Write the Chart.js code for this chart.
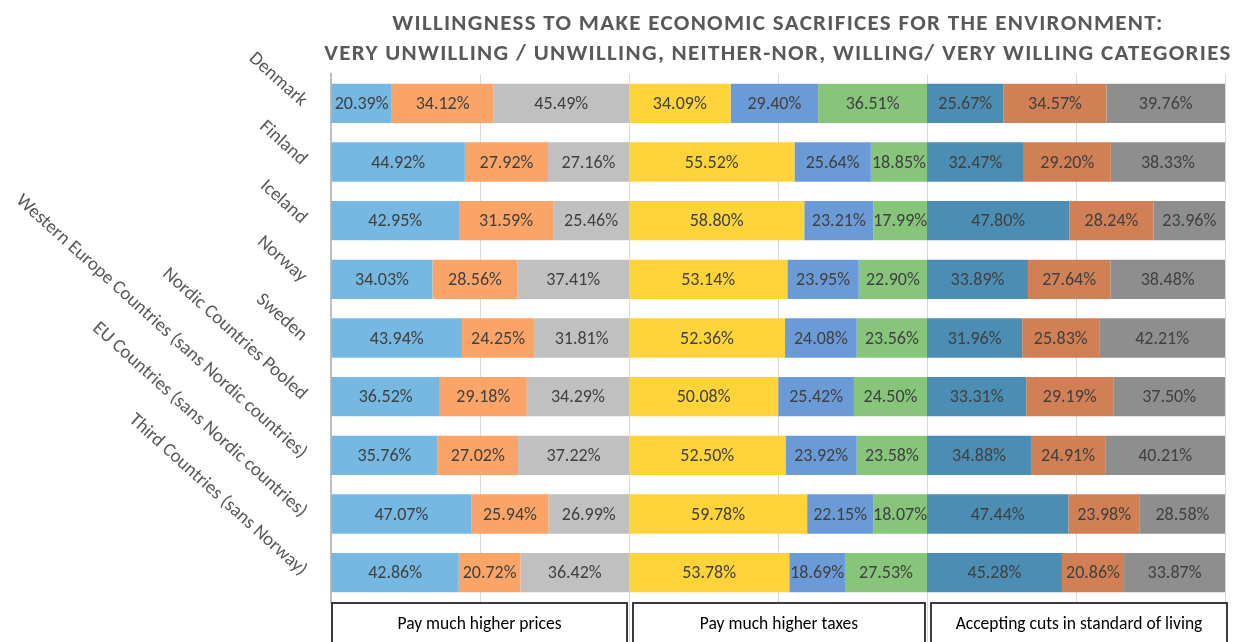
<!DOCTYPE html>
<html>
<head>
<meta charset="utf-8">
<script src="https://cdn.jsdelivr.net/npm/chart.js@4.4.0/dist/chart.umd.min.js"></script>
<style>
    body { margin: 0; background: #fff; }
    #wrap { width: 1250px; height: 642px; }
</style>
</head>
<body>
<div id="wrap"><canvas id="graph_sacrificios"></canvas></div>
<script>
// ############################## SACRIFICIOS ECONÓMICOS ############################### //
const paises = [
    'Denmark',
    'Finland',
    'Iceland',
    'Norway',
    'Sweden',
    'Nordic Countries Pooled',
    'Western Europe Countries (sans Nordic countries)',
    'EU Countries (sans Nordic countries)',
    'Third Countries (sans Norway)'
];
const categorias = ['Pay much higher prices', 'Pay much higher taxes', 'Accepting cuts in standard of living'];
const titulo = [
    'WILLINGNESS TO MAKE ECONOMIC SACRIFICES FOR THE ENVIRONMENT:',
    'VERY UNWILLING / UNWILLING, NEITHER-NOR, WILLING/ VERY WILLING CATEGORIES'
];

// precios
const precios_no = [20.39, 44.92, 42.95, 34.03, 43.94, 36.52, 35.76, 47.07, 42.86];
const precios_ni = [34.12, 27.92, 31.59, 28.56, 24.25, 29.18, 27.02, 25.94, 20.72];
const precios_si = [45.49, 27.16, 25.46, 37.41, 31.81, 34.29, 37.22, 26.99, 36.42];
// impuestos
const impuestos_no = [34.09, 55.52, 58.80, 53.14, 52.36, 50.08, 52.50, 59.78, 53.78];
const impuestos_ni = [29.40, 25.64, 23.21, 23.95, 24.08, 25.42, 23.92, 22.15, 18.69];
const impuestos_si = [36.51, 18.85, 17.99, 22.90, 23.56, 24.50, 23.58, 18.07, 27.53];
// nivel de vida
const nivel_no = [25.67, 32.47, 47.80, 33.89, 31.96, 33.31, 34.88, 47.44, 45.28];
const nivel_ni = [34.57, 29.20, 28.24, 27.64, 25.83, 29.19, 24.91, 23.98, 20.86];
const nivel_si = [39.76, 38.33, 23.96, 38.48, 42.21, 37.50, 40.21, 28.58, 33.87];

const fuente = 'Carlito, "Liberation Sans Narrow", "Liberation Sans", sans-serif';

(function(){
    const series = [
        {label: 'Prices - unwilling', data: precios_no, color: '#75B8E2'},
        {label: 'Prices - neither', data: precios_ni, color: '#FAA468'},
        {label: 'Prices - willing', data: precios_si, color: '#C0C0C0'},
        {label: 'Taxes - unwilling', data: impuestos_no, color: '#FED43A'},
        {label: 'Taxes - neither', data: impuestos_ni, color: '#6B9BD7'},
        {label: 'Taxes - willing', data: impuestos_si, color: '#86C57A'},
        {label: 'Cuts - unwilling', data: nivel_no, color: '#4C8DB4'},
        {label: 'Cuts - neither', data: nivel_ni, color: '#D08054'},
        {label: 'Cuts - willing', data: nivel_si, color: '#8E8E8E'}
    ];

    const data_graph = {
        labels: paises,
        datasets: series.map(s => ({
            label: s.label,
            data: s.data,
            backgroundColor: s.color,
            borderWidth: 0,
            stack: 'a',
            barPercentage: 0.67,
            categoryPercentage: 1
        }))
    };

    // porcentajes dentro de cada barra
    const etiquetas_plugin = {
        id: 'etiquetas',
        afterDatasetsDraw(chart) {
            const ctx = chart.ctx;
            ctx.save();
            ctx.font = '18px ' + fuente;
            ctx.fillStyle = '#404040';
            ctx.textAlign = 'center';
            ctx.textBaseline = 'middle';
            chart.data.datasets.forEach((ds, i) => {
                chart.getDatasetMeta(i).data.forEach((bar, j) => {
                    ctx.fillText(ds.data[j].toFixed(2) + '%', (bar.x + bar.base) / 2, bar.y + 1);
                });
            });
            ctx.restore();
        }
    };

    // cajas con las categorías debajo del eje
    const cajas_plugin = {
        id: 'cajas',
        afterDraw(chart) {
            const ctx = chart.ctx;
            const x = chart.scales.x;
            const top = chart.chartArea.bottom + 1;
            ctx.save();
            ctx.strokeStyle = '#262626';
            ctx.lineWidth = 1.8;
            ctx.font = '17.5px ' + fuente;
            ctx.textAlign = 'center';
            ctx.textBaseline = 'middle';
            categorias.forEach((c, i) => {
                const x0 = x.getPixelForValue(i * 100) + (i > 0 ? 4 : 1);
                const x1 = x.getPixelForValue((i + 1) * 100) + (i < 2 ? -2 : 2);
                ctx.fillStyle = '#fff';
                ctx.fillRect(x0, top, x1 - x0, chart.height - top + 10);
                ctx.strokeRect(x0, top, x1 - x0, chart.height - top + 10);
                ctx.fillStyle = '#000';
                ctx.fillText(c, (x0 + x1) / 2, top + 22);
            });
            ctx.restore();
        }
    };

    // título con espaciado entre letras (el title de Chart.js no lo tiene)
    const titulo_plugin = {
        id: 'titulo',
        afterDraw(chart) {
            const ctx = chart.ctx;
            const area = chart.chartArea;
            ctx.save();
            ctx.font = 'bold 23px ' + fuente;
            ctx.fillStyle = '#595959';
            ctx.textAlign = 'center';
            ctx.textBaseline = 'middle';
            ctx.letterSpacing = '1.3px';
            titulo.forEach((t, i) => {
                ctx.fillText(t, (area.left + area.right) / 2, 24 + i * 30);
            });
            ctx.restore();
        }
    };

    const config = {
        type: 'bar',
        data: data_graph,
        plugins: [etiquetas_plugin, cajas_plugin, titulo_plugin],
        options: {
            indexAxis: 'y',
            responsive: true,
            maintainAspectRatio: false,
            animation: false,
            layout: {
                padding: {left: 0, right: 25, top: 74, bottom: 0}
            },
            scales: {
                x: {
                    stacked: true,
                    min: 0,
                    max: 300,
                    ticks: {display: false, stepSize: 50},
                    grid: {color: '#D9D9D9', drawTicks: true, tickLength: 40},
                    border: {display: false},
                    afterFit: function(scale) { scale.height = 40; }
                },
                y: {
                    stacked: true,
                    grid: {display: false, drawTicks: false},
                    border: {color: '#BFBFBF', width: 2},
                    ticks: {
                        minRotation: -42,
                        maxRotation: -42,
                        padding: 27,
                        color: '#595959',
                        font: {family: fuente, size: 19}
                    },
                    afterFit: function(scale) { scale.width = 331; }
                }
            },
            plugins: {
                legend: {display: false},
                tooltip: {enabled: false},
                title: {display: false}
            }
        }
    };

    const chart_sacrificios = new Chart(
        document.getElementById('graph_sacrificios'),
        config
    );
})();
// ###################################################################################### //
</script>
</body>
</html>
